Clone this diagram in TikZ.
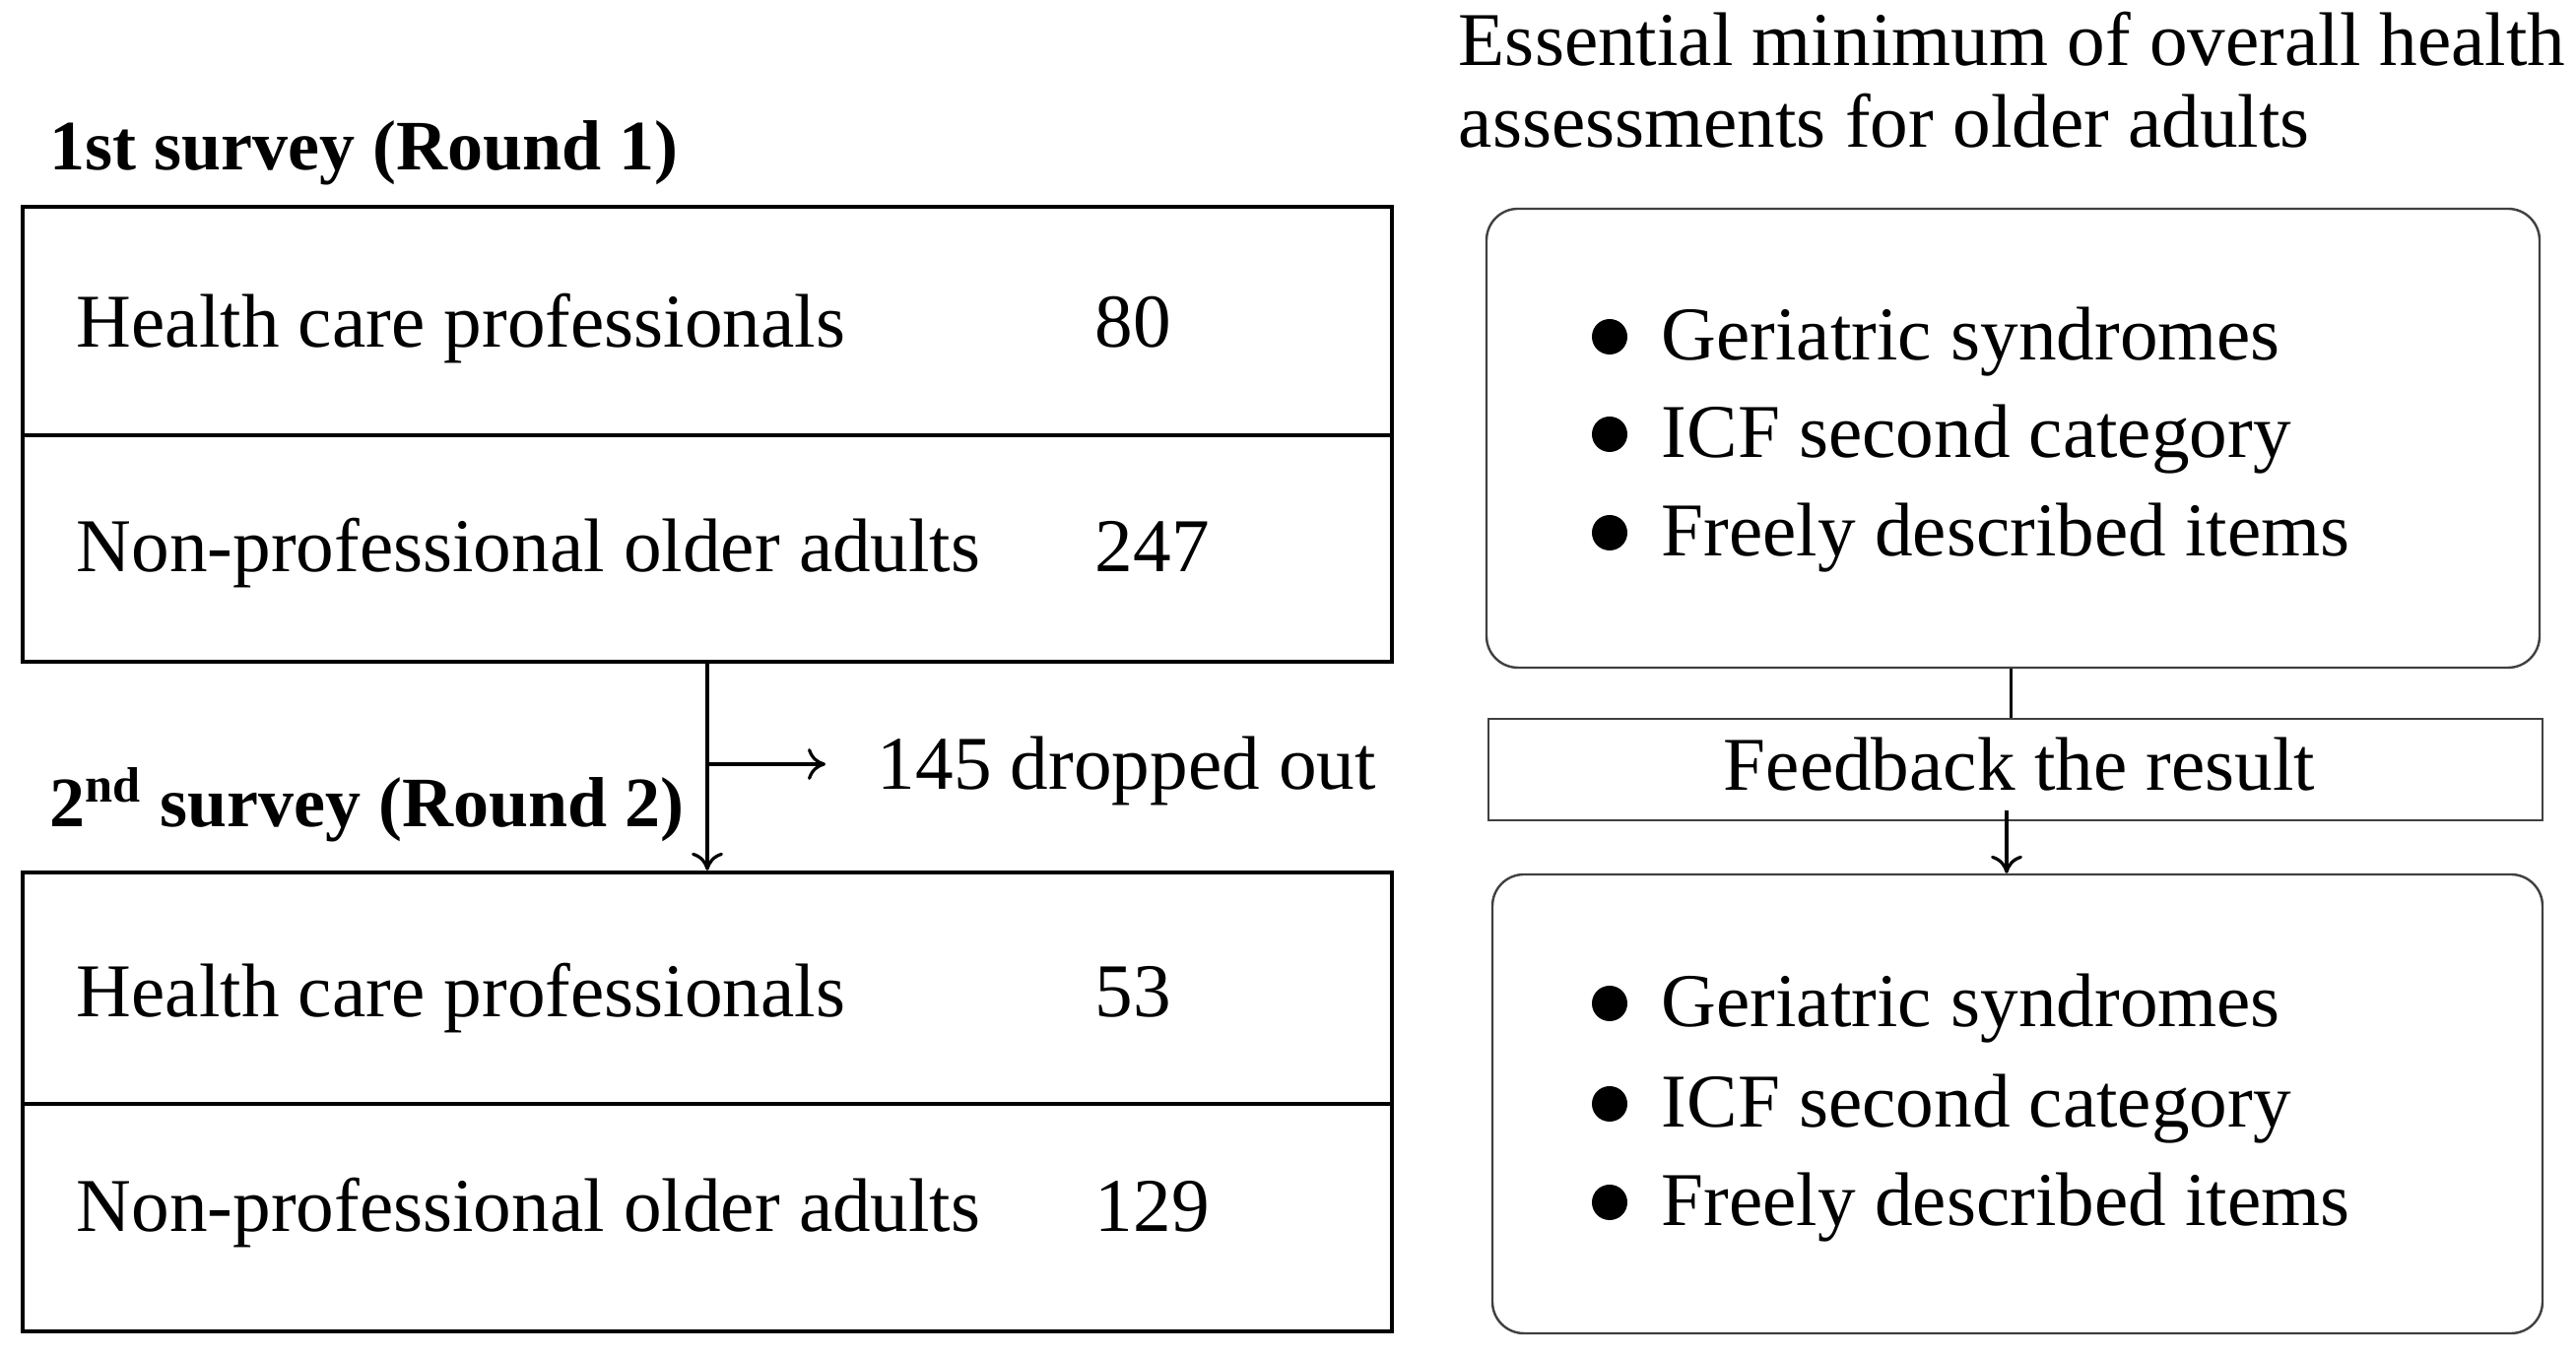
\documentclass[tikz,border=0pt]{standalone}
\usepackage{fontspec}
\setmainfont{Liberation Serif}
\usetikzlibrary{arrows.meta}
\begin{document}
\begin{tikzpicture}[x=0.25pt,y=-0.25pt,
  font=\fontsize{19.3}{23}\selectfont,
  lbox/.style={draw, line width=1.1pt, minimum width=347.5pt, inner sep=0pt},
  rbox/.style={draw=black!75, line width=0.6pt, rounded corners=8pt, inner sep=0pt},
  fbox/.style={draw=black!75, line width=0.6pt, inner sep=0pt},
  txt/.style={anchor=base west, inner sep=0pt},
  ttl/.style={anchor=base west, inner sep=0pt, font=\fontsize{18}{22}\selectfont\bfseries},
  dot/.style={circle, fill=black, inner sep=0pt, minimum size=9pt},
  conn/.style={line width=0.8pt},
  arr/.style={line width=0.8pt, -{To[length=4.5pt,width=8pt]}}]
\useasboundingbox (0,0) rectangle (2615,1376);

% left: round 1
\node[ttl] (t1) at (50,173) {1st survey (Round 1)};
\node[lbox, minimum height=58pt] (r1a) at (718,326) {};
\node[lbox, minimum height=57.5pt] (r1b) at (718,557) {};
\node[txt] (h1) at (77,353) {Health care professionals};
\node[txt] (n1) at (1111,353) {80};
\node[txt] (p1) at (77,581) {Non-professional older adults};
\node[txt] (m1) at (1111,581) {247};

% left: round 2
\node[ttl] (t2) at (50,840) {2\textsuperscript{nd} survey (Round 2)};
\node[lbox, minimum height=58.75pt] (r2a) at (718,1003.5) {};
\node[lbox, minimum height=57.75pt] (r2b) at (718,1236.5) {};
\node[txt] (h2) at (77,1033) {Health care professionals};
\node[txt] (n2) at (1111,1033) {53};
\node[txt] (p2) at (77,1251) {Non-professional older adults};
\node[txt] (m2) at (1111,1251) {129};

\node[txt] (drop) at (890,802) {145 dropped out};
\draw[arr] (r1b.south) -- (r2a.north);
\coordinate (br) at (718,776);
\coordinate (brend) at (838,776);
\draw[arr] (br) -- (brend);

% right side
\node[txt] (e1) at (1480,67) {Essential minimum of overall health};
\node[txt] (e2) at (1480,150) {assessments for older adults};
\node[rbox, minimum width=267.25pt, minimum height=116.5pt] (b1) at (2043.5,445) {};
\node[fbox, minimum width=267.5pt, minimum height=25.75pt] (fb) at (2046,781.5) {};
\node[anchor=base, inner sep=0pt] (fbt) at (2050,803) {Feedback the result};
\node[rbox, minimum width=266.5pt, minimum height=116.5pt] (b2) at (2048,1121) {};

\draw[conn] ([xshift=-0.6pt]b1.south) -- ([xshift=-0.6pt]b1.south |- fb.north);
\draw[arr] ([xshift=-2.25pt,yshift=2.75pt]fb.south) -- ([xshift=-2.25pt]fb.south |- b2.north);

% bullets box 1
\node[dot] (d1) at (1634,342) {};
\node[txt] (i1) at (1686,366) {Geriatric syndromes};
\node[dot] (d2) at (1634,441) {};
\node[txt] (i2) at (1686,465) {ICF second category};
\node[dot] (d3) at (1634,541) {};
\node[txt] (i3) at (1686,565) {Freely described items};

% bullets box 2
\node[dot] (d4) at (1634,1019) {};
\node[txt] (i4) at (1686,1043) {Geriatric syndromes};
\node[dot] (d5) at (1634,1121) {};
\node[txt] (i5) at (1686,1145) {ICF second category};
\node[dot] (d6) at (1634,1221) {};
\node[txt] (i6) at (1686,1245) {Freely described items};
\end{tikzpicture}
\end{document}
